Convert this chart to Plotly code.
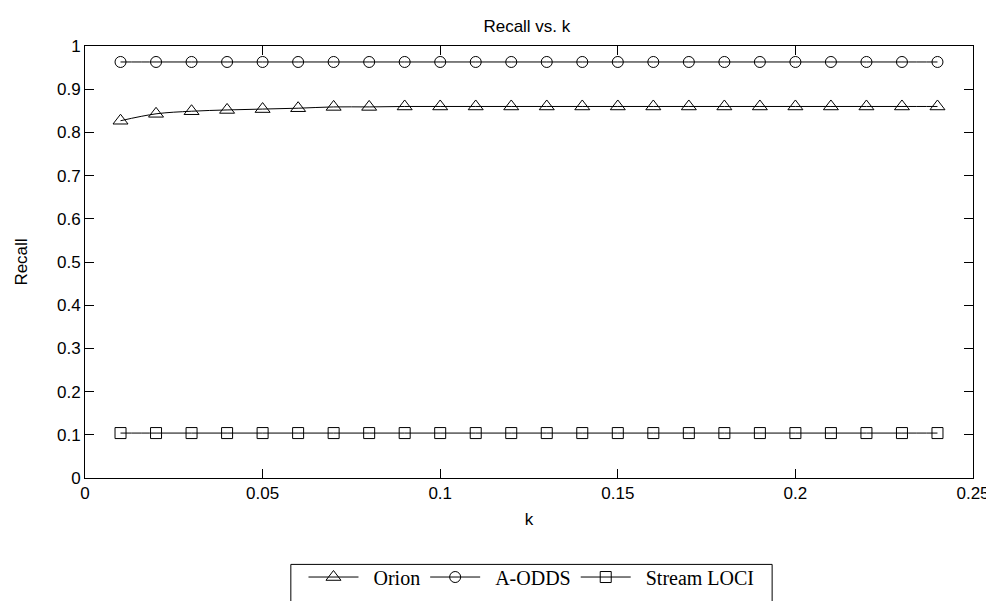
import plotly.graph_objects as go

k = [round(0.01 * i, 2) for i in range(1, 25)]
orion = [0.827, 0.843, 0.849, 0.852, 0.854, 0.856, 0.859, 0.859,
         0.860, 0.860, 0.860, 0.860, 0.860, 0.860, 0.860, 0.860,
         0.860, 0.860, 0.860, 0.860, 0.860, 0.860, 0.860, 0.860]
aodds = [0.963] * 24
stream_loci = [0.104] * 24

series_names = ["Orion", "A-ODDS", "Stream LOCI"]

x_ticks = [0, 0.05, 0.1, 0.15, 0.2, 0.25]
x_tick_labels = ["0", "0.05", "0.1", "0.15", "0.2", "0.25"]
y_ticks = [0, 0.1, 0.2, 0.3, 0.4, 0.5, 0.6, 0.7, 0.8, 0.9, 1]
y_tick_labels = ["0", "0.1", "0.2", "0.3", "0.4", "0.5", "0.6", "0.7", "0.8", "0.9", "1"]

NB = "\u00a0"
fig = go.Figure()
series = [
    (series_names[0], orion, "triangle-up-open", 13),
    (series_names[1], aodds, "circle-open", 11),
    (series_names[2], stream_loci, "square-open", 11),
]
for name, vals, sym, sz in series:
    fig.add_trace(go.Scatter(
        x=k, y=vals, name=NB * 2 + name, mode="lines+markers",
        line=dict(color="black", width=1, shape="spline"),
        marker=dict(symbol=sym, size=sz, color="black", line=dict(width=1, color="black")),
    ))

sans = "Liberation Sans, Arial"
axis_common = dict(
    showgrid=False, zeroline=False, showline=True, linecolor="black", linewidth=1,
    mirror="ticks", ticks="inside", ticklen=9, tickcolor="black", tickwidth=1,
    tickfont=dict(family=sans, size=17, color="black"),
)

# plot area: x 75..968 px, y 38..478 px
L, R, T, B = 75, 968, 38, 478
def px_x(p):
    return (p - L) / (R - L)
def px_y(p):
    return (B - p) / (B - T)

fig.update_layout(
    width=994, height=601,
    margin=dict(l=L, r=994 - R, t=T, b=601 - B),
    paper_bgcolor="white", plot_bgcolor="white",
    title=dict(text="Recall vs. k", x=0.522, xanchor="center", y=1 - 18 / 601, yanchor="middle",
               font=dict(family=sans, size=17, color="black")),
    xaxis=dict(range=[0, 0.25], tickvals=x_ticks, ticktext=x_tick_labels,
               title=dict(text="k", standoff=10, font=dict(family=sans, size=17, color="black")),
               **axis_common),
    yaxis=dict(range=[0, 1], tickvals=y_ticks, ticktext=y_tick_labels,
               title=dict(text="Recall", standoff=25, font=dict(family=sans, size=17, color="black")),
               **axis_common),
    showlegend=True,
    legend=dict(orientation="h", x=px_x(524), xanchor="center", y=px_y(559), yanchor="top",
                borderwidth=0, bgcolor="rgba(0,0,0,0)",
                font=dict(family="Liberation Serif, Times New Roman", size=20, color="black"),
                itemwidth=50),
    shapes=[dict(type="rect", xref="paper", yref="paper",
                 x0=px_x(282), x1=px_x(766), y0=px_y(566), y1=px_y(640),
                 line=dict(color="black", width=1), fillcolor="rgba(0,0,0,0)", layer="above")],
)

fig.write_html("out.html")
